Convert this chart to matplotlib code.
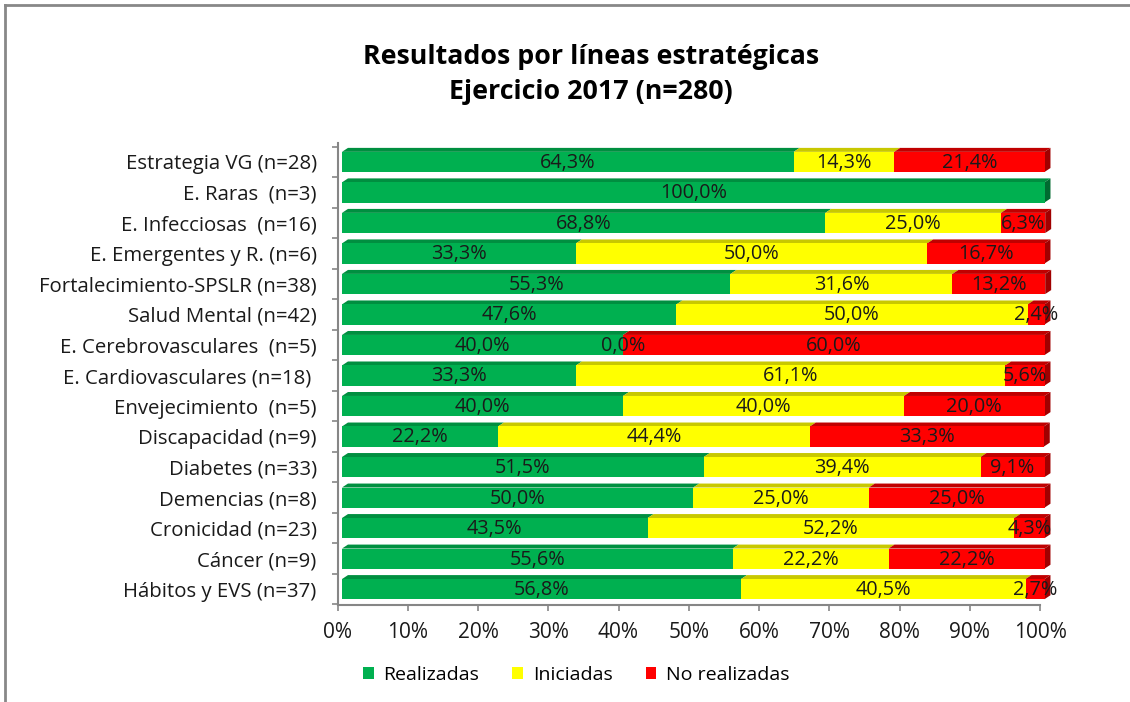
import numpy as np
import matplotlib
matplotlib.use("Agg")
import matplotlib.pyplot as plt
import matplotlib.transforms as mtransforms
from matplotlib.patches import Patch
from matplotlib.lines import Line2D

plt.rcParams['font.family'] = ['Open Sans', 'DejaVu Sans']

# datos (filas de arriba a abajo)
categorias = ["Estrategia VG (n=28)", "E. Raras  (n=3)", "E. Infecciosas  (n=16)",
              "E. Emergentes y R. (n=6)", "Fortalecimiento-SPSLR (n=38)",
              "Salud Mental (n=42)", "E. Cerebrovasculares  (n=5)",
              "E. Cardiovasculares (n=18) ", "Envejecimiento  (n=5)",
              "Discapacidad (n=9)", "Diabetes (n=33)", "Demencias (n=8)",
              "Cronicidad (n=23)", "Cáncer (n=9)", "Hábitos y EVS (n=37)"]
realizadas = [64.3, 100.0, 68.8, 33.3, 55.3, 47.6, 40.0, 33.3, 40.0, 22.2, 51.5, 50.0, 43.5, 55.6, 56.8]
iniciadas = [14.3, np.nan, 25.0, 50.0, 31.6, 50.0, 0.0, 61.1, 40.0, 44.4, 39.4, 25.0, 52.2, 22.2, 40.5]
no_realizadas = [21.4, np.nan, 6.3, 16.7, 13.2, 2.4, 60.0, 5.6, 20.0, 33.3, 9.1, 25.0, 4.3, 22.2, 2.7]
series_names = ["Realizadas", "Iniciadas", "No realizadas"]
xticks = [0, 10, 20, 30, 40, 50, 60, 70, 80, 90, 100]

colores = ["#00B050", "#FFFF00", "#FF0000"]
techo = ["#008F40", "#C8C800", "#C00000"]
lado = ["#006B30", "#A0A000", "#A00000"]

fig = plt.figure(figsize=(11.3, 7.02), dpi=100)
ax = fig.add_axes([337.5 / 1130, 1 - 605 / 702, 702.5 / 1130, (605 - 143) / 702])

# desplazamiento 3D de las barras respecto a los ejes
shift = ax.transData + mtransforms.ScaledTranslation(0.045, 0.0, fig.dpi_scale_trans)

h = 0.66     # altura cara frontal
dx = 0.85    # profundidad en x (%)
dy = 0.13    # profundidad en y (filas)
y = np.arange(len(categorias))
datos = [realizadas, iniciadas, no_realizadas]

for i in y:
    left = 0.0
    last = None
    for s, serie in enumerate(datos):
        v = serie[i]
        w = 0.0 if np.isnan(v) else v
        if w > 0:
            ax.barh(i, w, left=left, height=h, color=colores[s], transform=shift,
                    zorder=3, clip_on=False)
            top = i - h / 2
            ax.fill([left, left + dx, left + w + dx, left + w],
                    [top, top - dy, top - dy, top], color=techo[s], lw=0,
                    transform=shift, zorder=2, clip_on=False)
            last = s
        if not np.isnan(v):
            lab = f"{v:.1f}".replace('.', ',') + '%'
            ax.text(left + w / 2, i + 0.03, lab, ha='center', va='center',
                    fontsize=14.3, color='#1a1a1a', transform=shift, zorder=5)
        left += w
    top = i - h / 2
    bot = i + h / 2
    ax.fill([left, left + dx, left + dx, left], [top, top - dy, bot - dy, bot],
            color=lado[last], lw=0, transform=shift, zorder=2, clip_on=False)

ax.set_xlim(0, 100)
ax.set_ylim(14.52, -0.62)
ax.set_xticks(xticks)
ax.set_xticklabels([f"{t}%" for t in xticks], fontsize=15, color='#1a1a1a')
ax.set_yticks(y)
ax.set_yticklabels(categorias, fontsize=14.7, color='#1a1a1a')
ax.set_yticks(np.arange(-0.5, len(categorias), 1.0), minor=True)
ax.tick_params(axis='y', which='major', length=0, pad=15)
ax.tick_params(axis='y', which='minor', length=4, color='#868686', width=1.2)
ax.tick_params(axis='x', length=4, color='#868686', width=1.2, pad=8)
for sp in ['top', 'right']:
    ax.spines[sp].set_visible(False)
for sp in ['left', 'bottom']:
    ax.spines[sp].set_color('#868686')
    ax.spines[sp].set_linewidth(1.5)

fig.text(0.523, 1 - 57 / 702, "Resultados por líneas estratégicas",
         ha='center', va='center', fontsize=19.3, fontweight='bold')
fig.text(0.523, 1 - 92 / 702, "Ejercicio 2017 (n=280)", ha='center', va='center',
         fontsize=19.3, fontweight='bold')

handles = [Patch(facecolor=c, edgecolor='none', label=n) for c, n in zip(colores, series_names)]
fig.legend(handles=handles, loc='center', bbox_to_anchor=(0.51, 1 - 675 / 702), ncol=3,
           frameon=False, fontsize=14, handlelength=0.55, handleheight=0.55,
           handletextpad=0.5, columnspacing=1.7)

# borde del gráfico
fig.add_artist(Line2D([5 / 1130, 1], [1 - 5 / 702, 1 - 5 / 702], color='#888888', lw=2,
                      transform=fig.transFigure))
fig.add_artist(Line2D([5 / 1130, 5 / 1130], [0, 1 - 5 / 702], color='#888888', lw=2,
                      transform=fig.transFigure))

fig.savefig("out.png", dpi=100)
